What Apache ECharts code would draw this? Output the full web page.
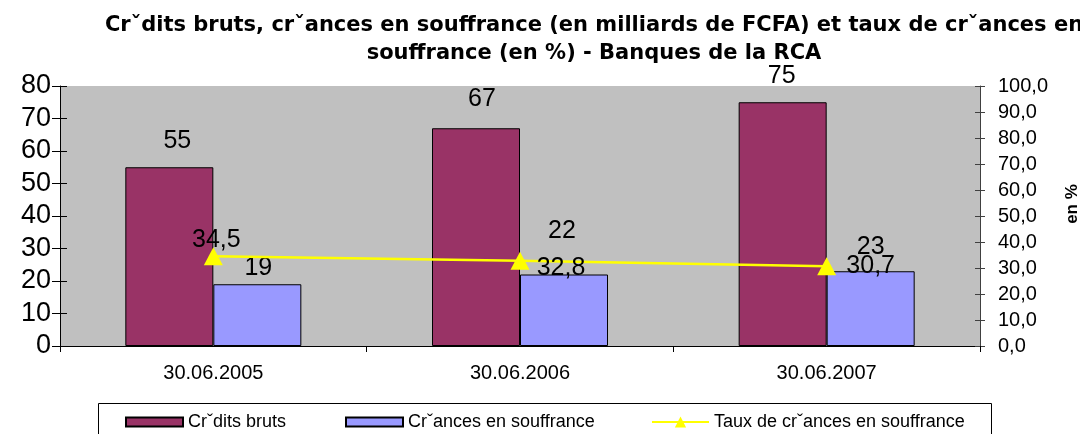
<!DOCTYPE html>
<html>
<head>
<meta charset="utf-8">
<script src="https://cdn.jsdelivr.net/npm/echarts@6/dist/echarts.min.js"></script>
<style>
html,body{margin:0;padding:0;background:#fff;}
#chart{width:1080px;height:434px;}
</style>
</head>
<body>
<div id="chart"></div>
<script>
const categories = ['30.06.2005', '30.06.2006', '30.06.2007'];
const creditsBruts = [55, 67, 75];
const creancesSouffrance = [19, 22, 23];
const tauxCreances = [34.5, 32.8, 30.7];
const seriesNames = ['Crˇdits bruts', 'Crˇances en souffrance', 'Taux de crˇances en souffrance'];
const titleText = 'Crˇdits bruts, crˇances en souffrance (en milliards de FCFA) et taux de crˇances en\nsouffrance (en %) - Banques de la RCA';

// label nudges (styling only)
const nudgeBars1 = [[8, -14], [6, -17], [-1, -14]];
const nudgeBars2 = [[1, -4], [-2, -31], [0, -12]];
const nudgeLine = [[3, -16], [41, 7], [44, 0]];

const FONT = 'Liberation Sans, Arial, sans-serif';
const comma1 = v => v.toFixed(1).replace('.', ',');

function withNudges(vals, nudges) {
  return vals.map((v, i) => ({
    value: v,
    label: { offset: nudges[i] }
  }));
}

const chart = echarts.init(document.getElementById('chart'));
const labelStyle = { fontFamily: FONT, fontSize: 25, color: '#000' };
const legendText = { fontFamily: FONT, fontSize: 18, color: '#000' };

chart.setOption({
  animation: false,
  backgroundColor: '#fff',
  grid: {
    left: 60, right: 100, top: 86, bottom: 88,
    show: true, backgroundColor: '#C0C0C0', borderWidth: 0,
    containLabel: false, outerBoundsMode: 'none'
  },
  legend: [
    { data: [seriesNames[0]], left: 125, top: 413, padding: 0, itemWidth: 57, itemHeight: 9, itemGap: 0, itemTextGap: 6, icon: 'rect', textStyle: legendText, selectedMode: false },
    { data: [seriesNames[1]], left: 345, top: 413, padding: 0, itemWidth: 57, itemHeight: 9, itemGap: 0, itemTextGap: 6, icon: 'rect', textStyle: legendText, selectedMode: false },
    { data: [seriesNames[2]], left: 651, top: 413, padding: 0, itemWidth: 57, itemHeight: 14, itemGap: 0, itemTextGap: 6, textStyle: legendText, selectedMode: false }
  ],
  graphic: [
    { type: 'rect', shape: { x: 98.5, y: 403.5, width: 893, height: 40 }, style: { fill: 'none', stroke: '#000', lineWidth: 1 }, z: 10, silent: true },
    {
      type: 'text', x: 594, y: 12, silent: true, z: 10,
      style: {
        text: titleText,
        fill: '#000',
        font: 'bold 21px "DejaVu Sans", sans-serif',
        fontFamily: 'DejaVu Sans', fontWeight: 'bold', fontSize: 21,
        lineHeight: 28,
        align: 'center', textAlign: 'center',
        verticalAlign: 'top', textVerticalAlign: 'top'
      }
    }
  ],
  xAxis: {
    type: 'category',
    data: categories,
    axisLine: { lineStyle: { color: '#000', width: 1 } },
    axisTick: { show: true, length: 6, lineStyle: { color: '#000' } },
    axisLabel: { fontFamily: FONT, fontSize: 20, color: '#000', margin: 17 },
    splitLine: { show: false }
  },
  yAxis: [
    {
      type: 'value', min: 0, max: 80, interval: 10, position: 'left',
      axisLine: { show: true, lineStyle: { color: '#000' } },
      axisTick: { show: true, length: 8, lineStyle: { color: '#000' } },
      axisLabel: { fontFamily: FONT, fontSize: 27, color: '#000', margin: 9 },
      splitLine: { show: false }
    },
    {
      type: 'value', min: 0, max: 100, interval: 10, position: 'right',
      name: 'en %', nameLocation: 'middle', nameRotate: 90, nameGap: 84,
      nameTextStyle: { fontFamily: FONT, fontWeight: 'bold', fontSize: 17, color: '#000', padding: [0, 0, 0, 24] },
      axisLine: { show: true, lineStyle: { color: '#404040' } },
      axisTick: { show: true, length: 5, lineStyle: { color: '#404040' } },
      axisLabel: { fontFamily: FONT, fontSize: 20, color: '#000', margin: 18, formatter: v => comma1(v) },
      splitLine: { show: false }
    },
    {
      type: 'value', min: 0, max: 80, interval: 10, position: 'left', offset: 0,
      axisLine: { show: false },
      axisTick: { show: true, inside: true, length: 7, lineStyle: { color: '#000' } },
      axisLabel: { show: false }, splitLine: { show: false }
    },
    {
      type: 'value', min: 0, max: 100, interval: 10, position: 'right', offset: 0,
      axisLine: { show: false },
      axisTick: { show: true, inside: true, length: 5, lineStyle: { color: '#404040' } },
      axisLabel: { show: false }, splitLine: { show: false }
    }
  ],
  series: [
    {
      name: seriesNames[0], type: 'bar', yAxisIndex: 0,
      data: withNudges(creditsBruts, nudgeBars1),
      barWidth: 88, barGap: '0%',
      itemStyle: { color: '#993366', borderColor: '#000', borderWidth: 1 },
      label: Object.assign({ show: true, position: 'top', distance: 0 }, labelStyle)
    },
    {
      name: seriesNames[1], type: 'bar', yAxisIndex: 0,
      data: withNudges(creancesSouffrance, nudgeBars2),
      barWidth: 88, barGap: '0%',
      itemStyle: { color: '#9999FF', borderColor: '#000', borderWidth: 1 },
      label: Object.assign({ show: true, position: 'top', distance: 0 }, labelStyle)
    },
    {
      name: seriesNames[2], type: 'line', yAxisIndex: 1,
      data: withNudges(tauxCreances, nudgeLine),
      symbol: 'triangle', symbolSize: [19, 18],
      lineStyle: { color: '#FFFF00', width: 2.5 },
      itemStyle: { color: '#FFFF00' },
      label: Object.assign({ show: true, position: 'inside', formatter: p => comma1(p.value) }, labelStyle),
      z: 5
    }
  ]
});
</script>
</body>
</html>
